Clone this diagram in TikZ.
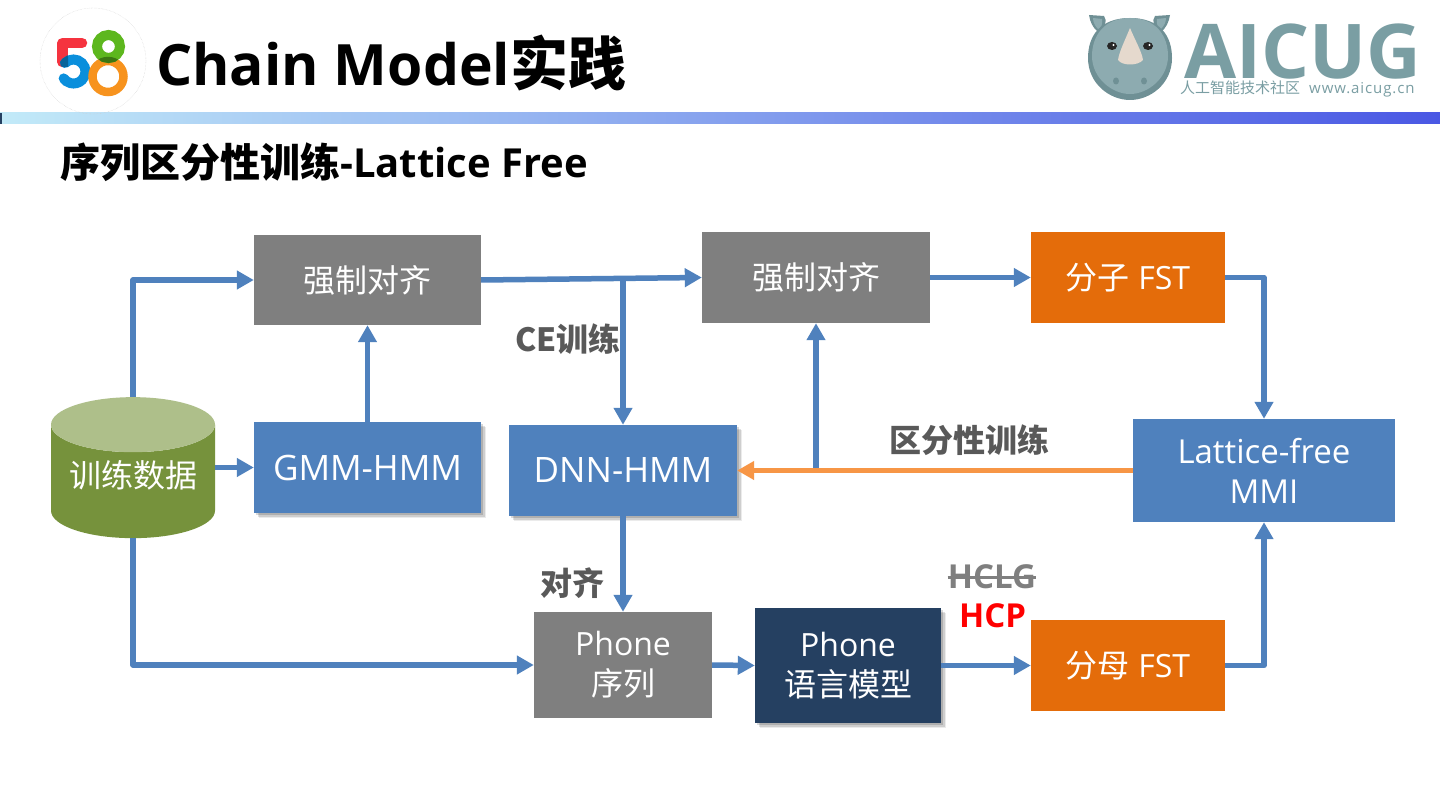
\documentclass[tikz,border=0pt]{standalone}
\usepackage{fontspec}
\usepackage{tikz}
\usetikzlibrary{arrows.meta, shapes.geometric, shadows}
\setmainfont{Open Sans}
\newfontfamily\cjkfont{Noto Sans CJK SC}
\newcommand{\pxfont}[1]{\fontsize{#1}{40}\selectfont}
\definecolor{flowblue}{HTML}{4F81BD}
\definecolor{boxgray}{HTML}{7F7F7F}
\definecolor{boxorange}{HTML}{E46C0A}
\definecolor{boxnavy}{HTML}{254061}
\definecolor{linkorange}{HTML}{F79646}
\definecolor{labelgray}{HTML}{595959}
\definecolor{rhinogray}{HTML}{7A9EA3}
\definecolor{rhinolight}{HTML}{8DABB0}
\definecolor{rhinodark}{HTML}{6F9095}
\definecolor{bandleft}{HTML}{C2EAF8}
\definecolor{bandmid}{HTML}{9DA7F2}
\definecolor{bandright}{HTML}{4A58E4}
\definecolor{logored}{HTML}{F5333F}
\definecolor{logoblue}{HTML}{0A8FDC}
\definecolor{logogreen}{HTML}{5DB71E}
\definecolor{logoorange}{HTML}{F7931E}
\tikzset{
  box/.style={minimum width=#1, inner sep=0pt, align=center, text=white, font=\pxfont{32}},
  softshadow/.style={
    drop shadow={shadow xshift=5pt, shadow yshift=-5pt, opacity=.08, fill=black},
    drop shadow={shadow xshift=3.5pt, shadow yshift=-3.5pt, opacity=.12, fill=black},
    drop shadow={shadow xshift=2pt, shadow yshift=-2pt, opacity=.15, fill=black}},
  flow/.style={line width=5.5pt, draw=flowblue, line join=round, -{Triangle[length=17pt, width=18pt]}},
  steplabel/.style={inner sep=0pt, text=labelgray, font=\pxfont{32}\bfseries\cjkfont},
}
\begin{document}
\begin{tikzpicture}[x=1pt, y=-1pt]
  \useasboundingbox (0,0) rectangle (1440,810);
  \fill[white] (0,0) rectangle (1440,810);

  % Header band
  \shade[left color=bandleft, middle color=bandmid, right color=bandright] (0,113) rectangle (1440,124);
  \fill[boxnavy] (0,113) rectangle (1.5,124);

  % 58 logo
  \draw[gray!40, densely dotted] (93,61) circle (53);
  \draw[line width=10.5pt, logored, line join=round, line cap=round] (62.5,62) -- (62.5,43) -- (82,43);
  \draw[line width=10pt, logoblue, line cap=round] (73.5,71.5) ++(-135:12) arc[start angle=-135, end angle=145, radius=12];
  \begin{scope}
    \clip (57,48) rectangle (68,67);
    \draw[line width=10pt, logoblue!70!black, line cap=round] (73.5,71.5) ++(-135:12) arc[start angle=-135, end angle=-90, radius=12];
  \end{scope}
  \draw[line width=8.5pt, logoorange] (108,76.5) circle (15.5);
  \draw[line width=10pt, logogreen] (108.5,46.5) circle (11.5);
  \begin{scope}
    \clip (108,76.5) circle (19.7);
    \draw[line width=10pt, logogreen!65!black] (108.5,46.5) circle (11.5);
  \end{scope}

  % Rhino logo
  \fill[rhinodark] (1089,15) -- (1104,16) .. controls (1108,20) and (1104,30) .. (1098,32) .. controls (1093,28) and (1090,22) .. cycle;
  \fill[rhinodark] (1170,15) -- (1155,16) .. controls (1151,20) and (1155,30) .. (1161,32) .. controls (1166,28) and (1169,22) .. cycle;
  \fill[rhinolight] (1093,18) -- (1102,19) .. controls (1103,24) and (1101,28) .. (1098,29) .. controls (1095,26) and (1093,22) .. cycle;
  \fill[rhinolight] (1166,18) -- (1157,19) .. controls (1156,24) and (1158,28) .. (1161,29) .. controls (1164,26) and (1166,22) .. cycle;
  \fill[rhinodark] (1130,18) .. controls (1160,18) and (1172,36) .. (1172,58) .. controls (1172,84) and (1150,100) .. (1130,100) .. controls (1110,100) and (1088,84) .. (1088,58) .. controls (1088,36) and (1100,18) .. cycle;
  \fill[rhinolight] (1130,18) .. controls (1156,18) and (1168,36) .. (1168,56) .. controls (1168,78) and (1148,94) .. (1130,94) .. controls (1112,94) and (1092,78) .. (1092,56) .. controls (1092,36) and (1104,18) .. cycle;
  \fill[white!88!orange!80!gray] (1130,28) .. controls (1134,38) and (1142,52) .. (1143,60) .. controls (1138,66) and (1122,66) .. (1118,60) .. controls (1119,52) and (1126,38) .. cycle;
  \fill[black!85] (1112,46) ellipse (5 and 4);
  \fill[black!85] (1148,46) ellipse (5 and 4);
  \fill[white] (1113.5,45) circle (1.2);
  \fill[white] (1149.5,45) circle (1.2);
  \fill[rhinodark] (1116,81) ellipse (3 and 3.5);
  \fill[rhinodark] (1144,81) ellipse (3 and 3.5);

  % Titles
  \node[anchor=west, inner sep=0pt, font=\fontsize{57}{60}\selectfont\bfseries] (title) at (156,63) {Chain Model{\fontsize{58}{60}\selectfont\cjkfont 实践}};
  \node[anchor=west, inner sep=0pt, font=\fontsize{40}{44}\selectfont\bfseries] (subtitle) at (60,162) {{\cjkfont 序列区分性训练}-Lattice Free};
  \node[anchor=west, inner sep=0pt, text depth=0pt, text=rhinogray, font=\fontsize{75.5}{76}\selectfont\bfseries] (aicug) at (1184,51) {AICUG};
  \node[anchor=west, inner sep=0pt, text height=11pt, text depth=2pt, text=rhinogray, font=\fontsize{15}{16}\selectfont] (aicugsub) at (1180,89) {{\cjkfont 人工智能技术社区}\hspace{9pt}\addfontfeature{LetterSpace=6}www.aicug.cn};

  % Boxes
  \node[box=227pt, minimum height=90pt, fill=boxgray] (forceone) at (367.5,280) {\cjkfont 强制对齐};
  \node[box=228pt, minimum height=91pt, fill=boxgray] (forcetwo) at (816,277.5) {\cjkfont 强制对齐};
  \node[box=194pt, minimum height=91pt, fill=boxorange] (numer) at (1128,277.5) {{\cjkfont 分子} FST};
  \node[box=227pt, minimum height=91pt, fill=flowblue, softshadow, font=\pxfont{35}] (gmm) at (367.5,467.5) {GMM-HMM};
  \node[box=228pt, minimum height=91pt, fill=flowblue, softshadow, font=\pxfont{35}] (dnn) at (623,470.5) {DNN-HMM};
  \node[box=262pt, minimum height=103pt, fill=flowblue, font=\pxfont{33}] (lfmmi) at (1264,470.5) {Lattice-free\\MMI};
  \node[box=178pt, minimum height=106pt, fill=boxgray] (phoneseq) at (623,665) {Phone\\{\cjkfont 序列}};
  \node[box=186pt, minimum height=115pt, fill=boxnavy, softshadow] (phonelm) at (848,665.5) {Phone\\{\cjkfont 语言模型}};
  \node[box=194pt, minimum height=91pt, fill=boxorange] (denom) at (1128,665.5) {{\cjkfont 分母} FST};
  \node[shape=cylinder, shape border rotate=90, aspect=0.43, cylinder uses custom fill,
    cylinder body fill={rgb,255:red,118;green,146;blue,60}, cylinder end fill={rgb,255:red,174;green,191;blue,138},
    minimum width=164pt, minimum height=141pt, inner sep=0pt, text=white, font=\pxfont{32}\cjkfont] (data) at (133,481.5) {\smash{\raisebox{-6pt}{训练数据}}};

  % Connectors
  \draw[flow] (data.north) |- (forceone.west);
  \draw[flow] (data.east |- gmm.west) -- (gmm.west);
  \draw[flow] (data.south) |- (phoneseq.west);
  \draw[flow] (gmm.north) -- (forceone.south);
  \draw[flow] (forceone.east) -- (forcetwo.west);
  \coordinate (cebranch) at (623,278.5);
  \draw[flow] (cebranch) -- (dnn.north);
  \draw[flow] (forcetwo.east) -- (numer.west);
  \draw[flow] (numer.east) -| (lfmmi.north);
  \draw[flow] (denom.east) -| (lfmmi.south);
  \draw[flow] (dnn.south) -- (phoneseq.north);
  \draw[flow] (phoneseq.east) -- (phonelm.west);
  \draw[flow] (phonelm.east) -- (denom.west);
  \coordinate (lossbranch) at (816,470.5);
  \draw[flow] (lossbranch) -- (forcetwo.south);
  \draw[flow, draw=linkorange] (lfmmi.west) -- (dnn.east);

  % Labels
  \node[steplabel] (celabel) at (568,339) {CE训练};
  \node[steplabel] (losslabel) at (969,440) {区分性训练};
  \node[steplabel] (alignlabel) at (572,583) {对齐};
  \node[inner sep=0pt, text=boxgray, font=\pxfont{33}\bfseries] (hclg) at (992,577) {HCLG};
  \draw[boxgray, line width=3pt] (hclg.west) -- (hclg.east);
  \node[inner sep=0pt, text=red, font=\pxfont{33}\bfseries] (hcp) at (992.5,616) {HCP};
\end{tikzpicture}
\end{document}
